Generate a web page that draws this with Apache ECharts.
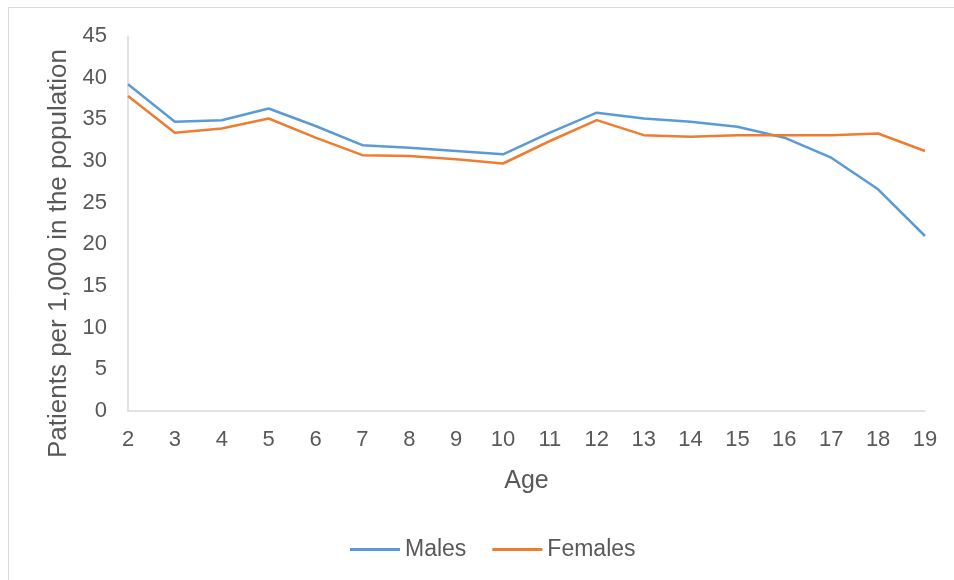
<!DOCTYPE html>
<html>
<head>
<meta charset="utf-8">
<script src="https://cdn.jsdelivr.net/npm/echarts@6/dist/echarts.min.js"></script>
<style>html,body{margin:0;padding:0;background:#fff;}#c{width:954px;height:580px;}</style>
</head>
<body>
<div id="c"></div>
<script>
const ages = ['2','3','4','5','6','7','8','9','10','11','12','13','14','15','16','17','18','19'];
const males = [39.2,34.7,34.9,36.3,34.2,31.9,31.6,31.2,30.8,33.4,35.8,35.1,34.7,34.1,32.8,30.4,26.6,21.0];
const females = [37.8,33.4,33.9,35.1,32.8,30.7,30.6,30.2,29.7,32.4,34.9,33.1,32.9,33.1,33.1,33.1,33.3,31.2];
const yTicks = [0,5,10,15,20,25,30,35,40,45];

const chart = echarts.init(document.getElementById('c'));
const txt = '#595959';
const font = 'Arial, "Liberation Sans", sans-serif';
chart.setOption({
  animation: false,
  graphic: [{
    type: 'rect', shape: {x: 8.5, y: 7.5, width: 1200, height: 1200},
    style: {fill: 'none', stroke: '#d9d9d9', lineWidth: 1}, silent: true
  }],
  grid: {left: 128, right: 29, top: 36, bottom: 169, containLabel: false},
  xAxis: {
    type: 'category', data: ages, boundaryGap: false,
    name: 'Age', nameLocation: 'middle', nameGap: 58,
    nameTextStyle: {color: txt, fontSize: 25, fontFamily: font},
    axisLine: {lineStyle: {color: '#d9d9d9', width: 1.5}},
    axisTick: {show: false},
    axisLabel: {color: txt, fontSize: 22, fontFamily: font, margin: 18, interval: 0}
  },
  yAxis: {
    type: 'value', min: yTicks[0], max: yTicks[yTicks.length-1], interval: 5,
    name: 'Patients per 1,000 in the population', nameLocation: 'middle', nameGap: 53,
    nameTextStyle: {color: txt, fontSize: 26, fontFamily: font, padding: [0, 60, 0, 0]},
    axisLine: {show: true, lineStyle: {color: '#d9d9d9', width: 1.5}},
    axisTick: {show: false},
    splitLine: {show: false},
    axisLabel: {color: txt, fontSize: 22, fontFamily: font, margin: 21}
  },
  legend: {
    left: 345, top: 533, itemWidth: 50, itemHeight: 3, itemGap: 26,
    textStyle: {color: txt, fontSize: 23, fontFamily: font},
    data: [{name: 'Males', icon: 'rect'}, {name: 'Females', icon: 'rect'}]
  },
  series: [
    {name: 'Males', type: 'line', data: males, symbol: 'none', smooth: false,
     lineStyle: {color: '#5B9BD5', width: 2.5}, itemStyle: {color: '#5B9BD5'}},
    {name: 'Females', type: 'line', data: females, symbol: 'none', smooth: false,
     lineStyle: {color: '#ED7D31', width: 2.5}, itemStyle: {color: '#ED7D31'}}
  ]
});
</script>
</body>
</html>
